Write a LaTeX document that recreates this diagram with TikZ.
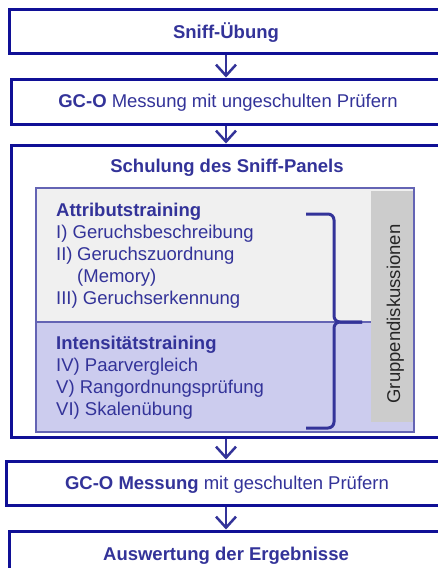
\documentclass[tikz,border=0pt]{standalone}
\usepackage{fontspec}
\setmainfont{Liberation Sans}
\usetikzlibrary{arrows.meta}
\definecolor{frameblue}{RGB}{16,16,150}
\definecolor{inkblue}{RGB}{51,51,153}
\definecolor{panelgray}{RGB}{240,240,240}
\definecolor{panelblue}{RGB}{204,204,238}
\definecolor{bargray}{RGB}{204,204,204}
\definecolor{edgeblue}{RGB}{100,100,180}
\begin{document}
\begin{tikzpicture}[x=1pt,y=-1pt,
  font=\fontsize{18.5}{22}\selectfont, text=inkblue,
  stage/.style={draw=frameblue, line width=3pt, fill=white, inner sep=0pt},
  flow/.style={draw=inkblue, line width=2.5pt, -{Straight Barb[length=11pt,width=20pt,line width=2.5pt]}},
  label/.style={anchor=base, inner sep=0pt},
  item/.style={anchor=base west, inner sep=0pt}]
\clip (0,0) rectangle (438,568);
\fill[white] (0,0) rectangle (438,568);

% process stages (they run past the right edge)
\node[stage, minimum width=434pt, minimum height=44pt] (b1) at (226,31) {};
\node[stage, minimum width=430pt, minimum height=45pt] (b2) at (226,101.5) {};
\node[stage, minimum width=430pt, minimum height=292pt] (b3) at (226,291) {};
\node[stage, minimum width=440pt, minimum height=44pt] (b4) at (226,483) {};
\node[stage, minimum width=434pt, minimum height=50pt] (b5) at (226,556) {};

\node[label] (t1) at (226,38) {\textbf{Sniff-Übung}};
\node[label] (t2) at (228,107) {\textbf{GC-O} Messung mit ungeschulten Prüfern};
\node[label] (t3) at (227,172) {\textbf{Schulung des Sniff-Panels}};
\node[label] (t4) at (227,489) {\textbf{GC-O Messung} mit geschulten Prüfern};
\node[label] (t5) at (226,560) {\textbf{Auswertung der Ergebnisse}};

% connectors between stages
\draw[flow] (b1) -- (b2);
\draw[flow] (b2) -- (b3);
\draw[flow] (b3) -- (b4);
\draw[flow] (b4) -- (b5);

% training panel
\fill[panelgray] (36,188) rectangle (414,322);
\fill[panelblue] (36,322) rectangle (414,432);
\draw[edgeblue, line width=1.5pt] (36,322) -- (414,322);
\fill[bargray] (371,191) rectangle (414,422);
\draw[edgeblue, line width=1.5pt] (36,188) rectangle (414,432);

\node[item, font=\fontsize{18.5}{22}\selectfont\bfseries] (a0) at (56,216) {Attributstraining};
\node[item] (a1) at (56,238) {I) Geruchsbeschreibung};
\node[item] (a2) at (56,260) {II)\hspace{4.5pt}Geruchszuordnung};
\node[item] (a3) at (77,282) {(Memory)};
\node[item] (a4) at (56,304) {III) Geruchserkennung};
\node[item, font=\fontsize{18.5}{22}\selectfont\bfseries] (i0) at (56,349) {Intensitätstraining};
\node[item] (i1) at (56,371) {IV) Paarvergleich};
\node[item] (i2) at (56,393) {V) Rangordnungsprüfung};
\node[item] (i3) at (56,415) {VI) Skalenübung};

\node[anchor=base, inner sep=0pt, rotate=90, text=black!85] (gd) at (400,314) {Gruppendiskussionen};

% curly bracket joining both trainings
\draw[inkblue, line width=3pt, rounded corners=6pt]
  (306,214) -- (334,214) -- (334,322) -- (362,322);
\draw[inkblue, line width=3pt, rounded corners=6pt]
  (362,322) -- (334,322) -- (334,428) -- (306,428);
\end{tikzpicture}
\end{document}
